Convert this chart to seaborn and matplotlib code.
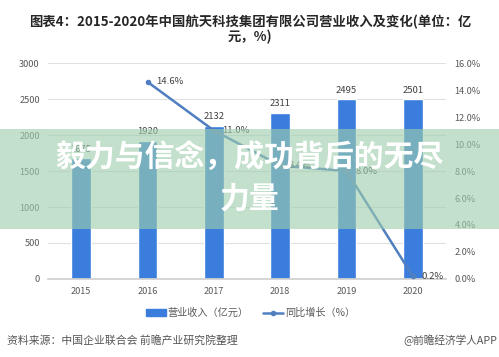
import numpy as np
import pandas as pd
import matplotlib
matplotlib.use('Agg')
import matplotlib.pyplot as plt
import seaborn as sns
from matplotlib.patches import Rectangle
from matplotlib.lines import Line2D

# chart data
years = ['2015', '2016', '2017', '2018', '2019', '2020']
revenue = [1675, 1920, 2132, 2311, 2495, 2501]
growth = [np.nan, 14.6, 11.0, 8.4, 8.0, 0.2]
left_ticks = [0, 500, 1000, 1500, 2000, 2500, 3000]
right_ticks = [0, 2, 4, 6, 8, 10, 12, 14, 16]

title = '图表4：2015-2020年中国航天科技集团有限公司营业收入及变化(单位：亿\n元，%)'
banner = '毅力与信念，成功背后的无尽\n力量'
source = '资料来源：中国企业联合会 前瞻产业研究院整理'
brand = '@前瞻经济学人APP'
bar_name = '营业收入（亿元）'
line_name = '同比增长（%）'

sns.set_theme(style='white')
plt.rcParams['font.family'] = ['Noto Sans CJK SC', 'DejaVu Sans']

bar_color = '#3b7ddd'
line_color = '#4f7fc0'
text_grey = '#595959'

df = pd.DataFrame({'year': years, 'revenue': revenue, 'growth': growth})

fig = plt.figure(figsize=(4.99, 3.57), dpi=100)
fig.patch.set_facecolor('white')
ax = fig.add_axes([0.0962, 0.2185, 0.7976, 0.605])

sns.barplot(data=df, x='year', y='revenue', color=bar_color, width=0.3,
            saturation=1, ax=ax, zorder=2)
ax.set_xlim(-0.5, 5.5)
ax.set_ylim(0, 3000)
ax.set_yticks(left_ticks)
ax.set_xlabel('')
ax.set_ylabel('')
ax.grid(axis='y', color='#e0e0e0', linewidth=0.8, zorder=0)
ax.set_axisbelow(True)
for s in ['top', 'right', 'left']:
    ax.spines[s].set_visible(False)
ax.spines['bottom'].set_color('#d0d0d0')
ax.tick_params(axis='both', length=0, labelsize=6.6, labelcolor=text_grey, pad=6)

for i, v in enumerate(revenue):
    ax.text(i, v + 60, str(v), ha='center', va='bottom', fontsize=6.8, color='#404040')

ax2 = ax.twinx()
sns.lineplot(data=df, x='year', y='growth', color=line_color, linewidth=1.8,
             marker='o', markersize=4, markeredgewidth=0, ax=ax2, zorder=3)
ax2.set_ylim(0, 16)
ax2.set_yticks(right_ticks)
ax2.set_yticklabels([f'{t:.1f}%' for t in right_ticks])
ax2.set_xlim(-0.5, 5.5)
ax2.set_xlabel('')
ax2.set_ylabel('')
for s in ['top', 'right', 'left', 'bottom']:
    ax2.spines[s].set_visible(False)
ax2.tick_params(axis='y', length=0, labelsize=6.6, labelcolor=text_grey, pad=6)
ax2.grid(False)

for i, g in enumerate(growth):
    if not np.isnan(g):
        ax2.text(i + 0.13, g, f'{g:.1f}%', ha='left', va='center',
                 fontsize=6.8, color='#404040')

# title
fig.text(0.501, 0.958, title, ha='center', va='top', fontsize=9.6,
         fontweight='bold', color='#262626', linespacing=1.0)

# legend
handles = [Rectangle((0, 0), 1, 1, color=bar_color),
           Line2D([0], [0], color=line_color, linewidth=1.8, marker='o',
                  markersize=4, markeredgewidth=0)]
fig.legend(handles, [bar_name, line_name], loc='center', ncol=2,
           bbox_to_anchor=(0.502, 0.123), frameon=False, fontsize=7.3,
           handlelength=2.0, handletextpad=0.2, columnspacing=1.4,
           labelcolor=text_grey)

# footer
fig.text(0.014, 0.047, source, ha='left', va='center', fontsize=7.8, color='#555555')
fig.text(0.996, 0.047, brand, ha='right', va='center', fontsize=7.7, color='#555555')

# translucent banner over the chart
fig.patches.append(Rectangle((0, 0.3585), 1, 0.2802, transform=fig.transFigure,
                             facecolor=(158/255, 206/255, 174/255), alpha=0.62,
                             edgecolor='none', zorder=5))
fig.text(0.5, 0.5, banner, ha='center', va='center', fontsize=21.5,
         fontweight='bold', color='white', linespacing=1.45, zorder=6)

fig.savefig('out.png', dpi=100, facecolor='white')
